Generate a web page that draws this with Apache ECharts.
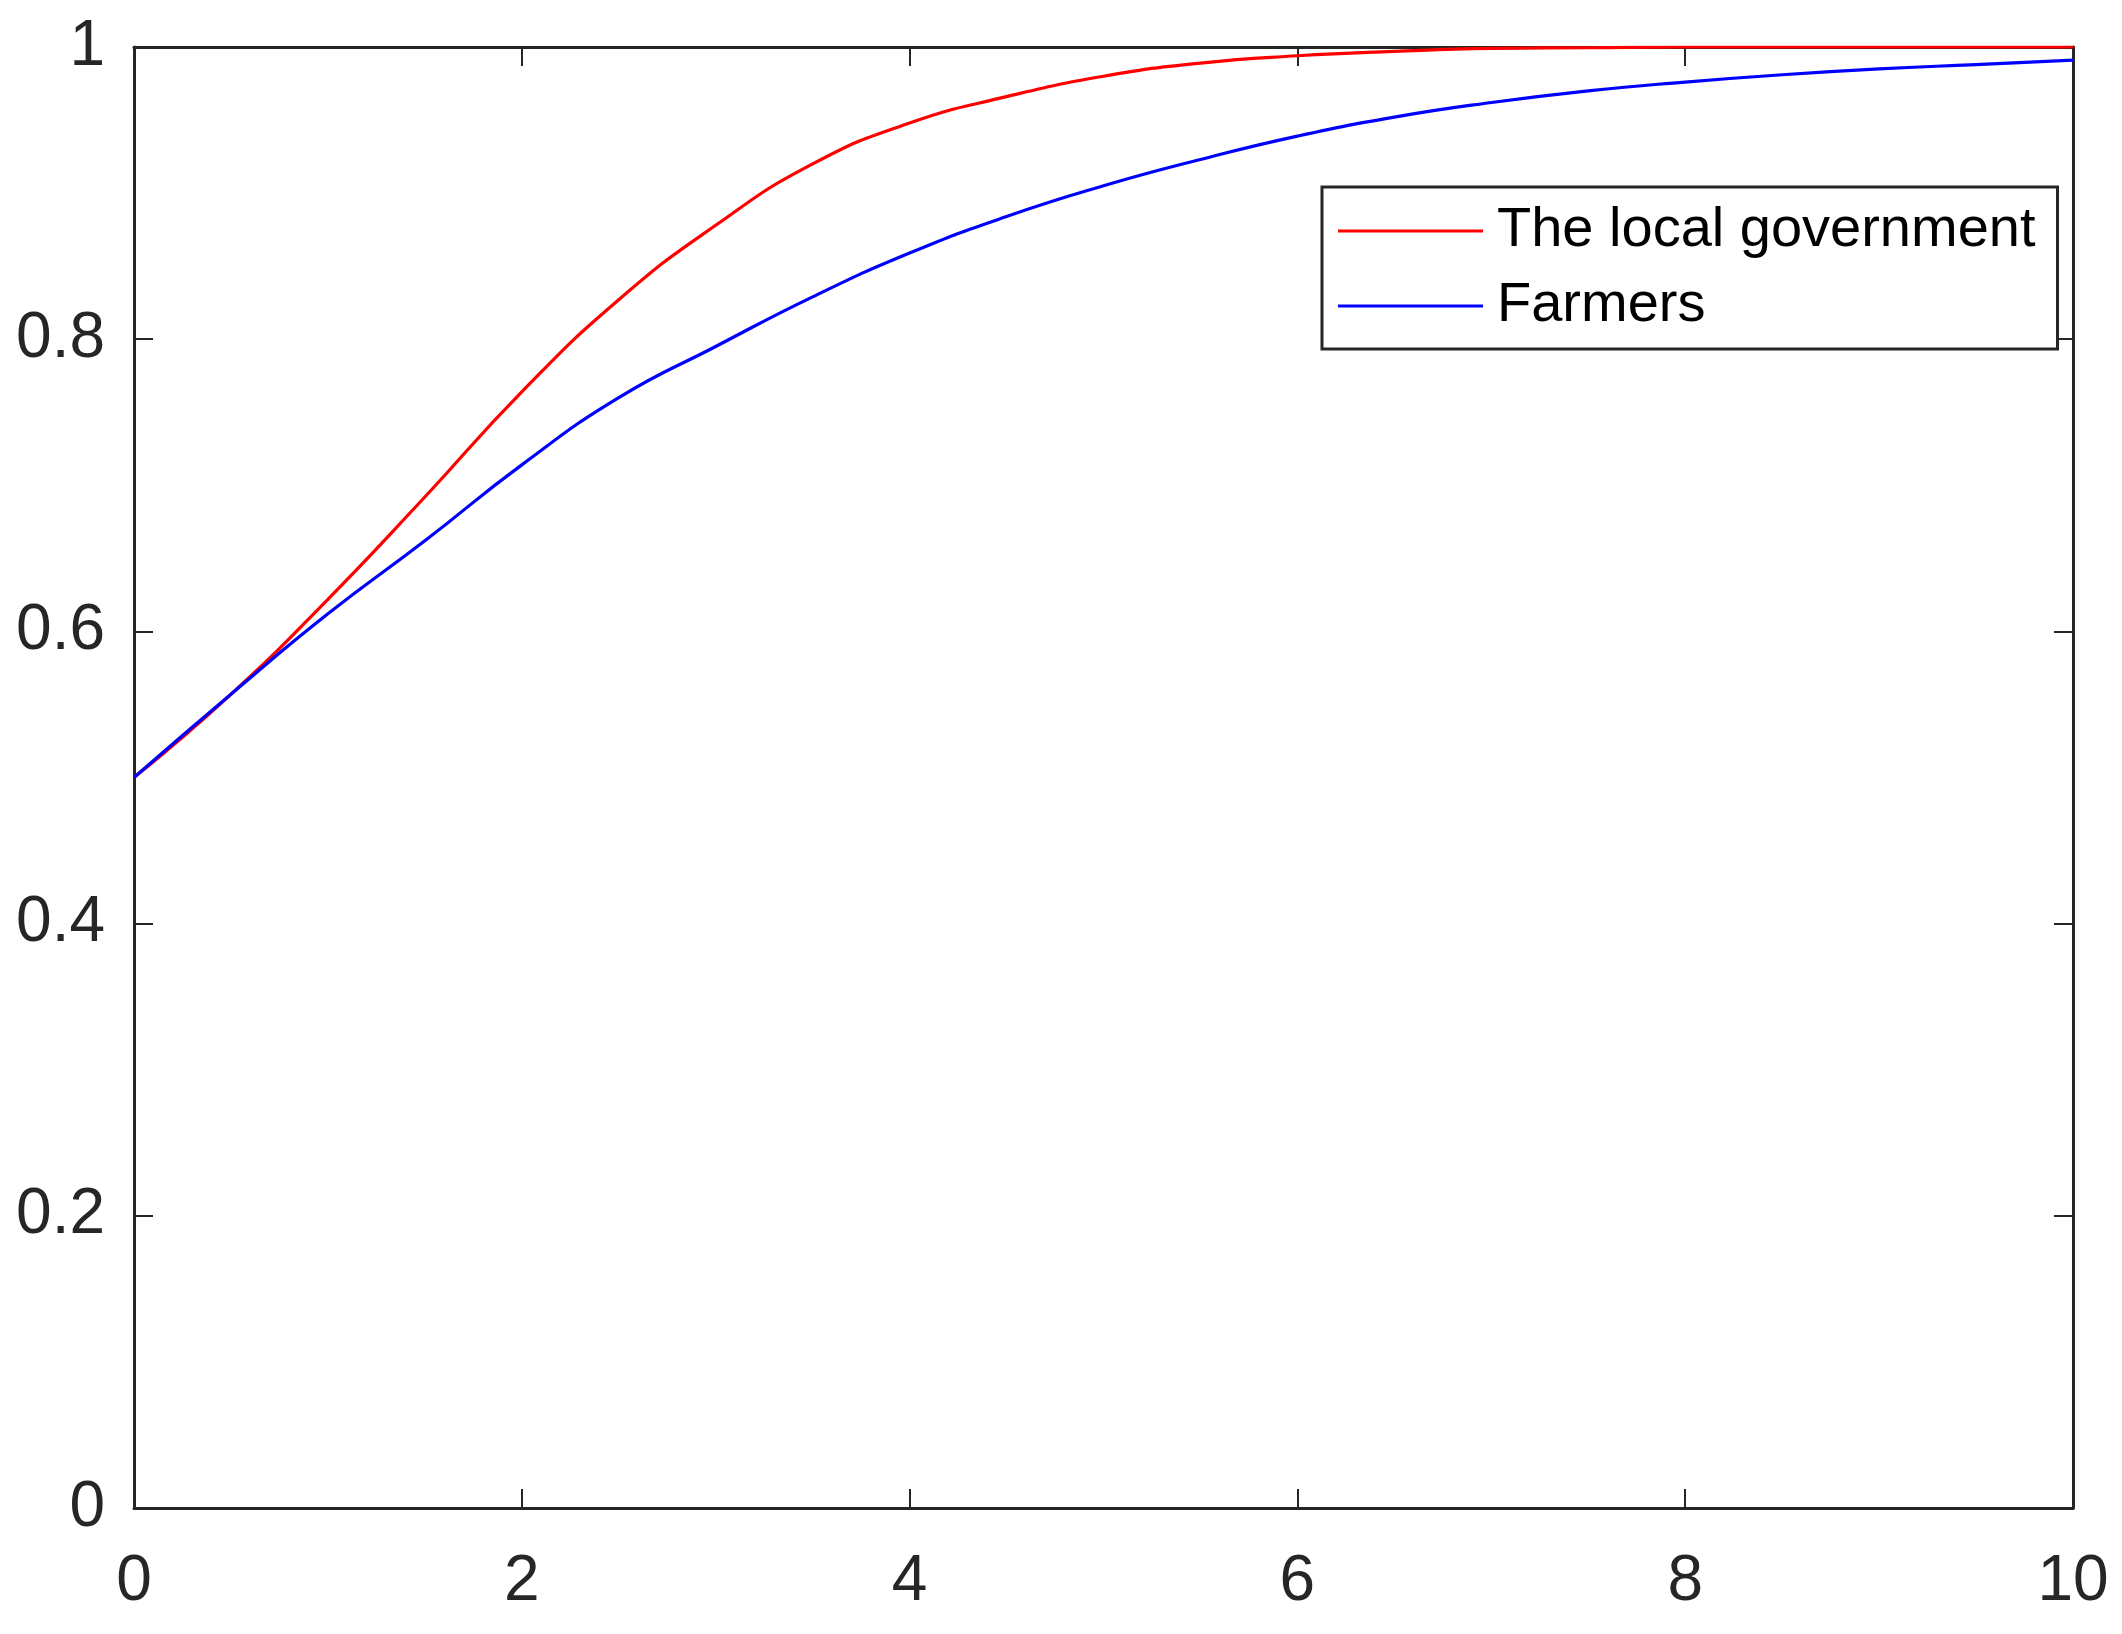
<!DOCTYPE html>
<html>
<head>
<meta charset="utf-8">
<script src="https://cdn.jsdelivr.net/npm/echarts@6/dist/echarts.min.js"></script>
<style>
html,body{margin:0;padding:0;background:#fff;}
#chart{width:2122px;height:1634px;}
</style>
</head>
<body>
<div id="chart"></div>
<script>
// Time points
const tValues = [0, 0.5, 1, 1.5, 2, 2.5, 3, 3.5, 4, 4.5, 5, 5.5, 6, 6.5, 7, 7.5, 8, 8.5, 9, 9.5, 10];
// The local government
const governmentValues = [0.500, 0.557, 0.622, 0.692, 0.764, 0.827, 0.878, 0.920, 0.948, 0.966, 0.980, 0.989, 0.994, 0.997, 0.999, 0.9995, 1.0, 1.0, 1.0, 1.0, 1.0];
// Farmers
const farmerValues = [0.500, 0.557, 0.612, 0.662, 0.714, 0.760, 0.795, 0.829, 0.859, 0.884, 0.905, 0.923, 0.939, 0.952, 0.962, 0.970, 0.976, 0.981, 0.985, 0.988, 0.991];
const seriesNames = ['The local government', 'Farmers'];
const xTicks = [0, 2, 4, 6, 8, 10];
const yTicks = [0, 0.2, 0.4, 0.6, 0.8, 1];

const FONT = "'Liberation Sans', Arial, Helvetica, sans-serif";
const AX = '#262626';

function pairs(xs, ys) { return xs.map((x, i) => [x, ys[i]]); }

const chart = echarts.init(document.getElementById('chart'), null, {renderer: 'canvas'});

const axisLineStyle = {show: true, onZero: false, lineStyle: {color: AX, width: 3}};
const tickStyle = {show: true, inside: true, length: 19, lineStyle: {color: AX, width: 2}};

chart.setOption({
  backgroundColor: '#ffffff',
  animation: false,
  grid: {left: 134, top: 47, width: 1939, height: 1461, containLabel: false},
  legend: {
    orient: 'vertical',
    left: 1322,
    top: 187,
    data: seriesNames,
    icon: 'rect',
    itemWidth: 145,
    itemHeight: 3,
    itemGap: 19,
    padding: [16, 22, 15, 16],
    borderColor: AX,
    borderWidth: 3,
    backgroundColor: '#ffffff',
    textStyle: {fontFamily: FONT, fontSize: 56, color: '#000000', lineHeight: 55, padding: [0, 0, 0, 9]}
  },
  xAxis: [
    {
      type: 'value', min: xTicks[0], max: xTicks[xTicks.length - 1], interval: 2,
      position: 'bottom',
      axisLine: axisLineStyle, axisTick: tickStyle, splitLine: {show: false},
      axisLabel: {fontFamily: FONT, fontSize: 64, color: AX, margin: 42}
    },
    {
      type: 'value', min: xTicks[0], max: xTicks[xTicks.length - 1], interval: 2,
      position: 'top',
      axisLine: axisLineStyle, axisTick: tickStyle, splitLine: {show: false},
      axisLabel: {show: false}
    }
  ],
  yAxis: [
    {
      type: 'value', min: yTicks[0], max: yTicks[yTicks.length - 1], interval: 0.2,
      position: 'left',
      axisLine: axisLineStyle, axisTick: tickStyle, splitLine: {show: false},
      axisLabel: {fontFamily: FONT, fontSize: 64, color: AX, margin: 29}
    },
    {
      type: 'value', min: yTicks[0], max: yTicks[yTicks.length - 1], interval: 0.2,
      position: 'right',
      axisLine: axisLineStyle, axisTick: tickStyle, splitLine: {show: false},
      axisLabel: {show: false}
    }
  ],
  series: [
    {
      name: seriesNames[0], type: 'line', xAxisIndex: 0, yAxisIndex: 0,
      data: pairs(tValues, governmentValues),
      symbol: 'none', smooth: 0.5,
      lineStyle: {color: '#ff0000', width: 3.2}, itemStyle: {color: '#ff0000'}, z: 3
    },
    {
      name: seriesNames[1], type: 'line', xAxisIndex: 0, yAxisIndex: 0,
      data: pairs(tValues, farmerValues),
      symbol: 'none', smooth: 0.5,
      lineStyle: {color: '#0000ff', width: 3.2}, itemStyle: {color: '#0000ff'}, z: 4
    }
  ]
});
</script>
</body>
</html>
